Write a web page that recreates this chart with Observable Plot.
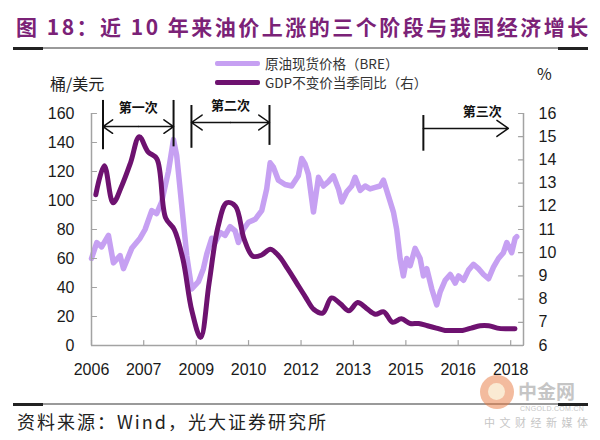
<!DOCTYPE html>
<html>
<head>
<meta charset="utf-8">
<script src="https://cdn.jsdelivr.net/npm/d3@7"></script>
<script src="https://cdn.jsdelivr.net/npm/@observablehq/plot@0.6"></script>
<style>
  html, body { margin: 0; padding: 0; background: #fff; }
  body { width: 600px; height: 440px; position: relative; overflow: hidden; font-family: "Liberation Sans", Arial, sans-serif; }
  .abs { position: absolute; white-space: nowrap; }
  #title { left: 16px; top: 12px; font-family: "Noto Sans CJK SC", sans-serif; font-weight: 700; font-size: 21px; line-height: 28px; color: #7b2277; letter-spacing: 2.5px; }
  .rule { position: absolute; height: 2px; background: #9a9a9a; }
  .rule .end { position: absolute; top: -0.5px; height: 3px; width: 30px; background: #222; }
  #chart { position: absolute; left: 0; top: 50px; }
  .leg { font-family: "Noto Sans CJK SC", sans-serif; font-size: 13.5px; color: #333; line-height: 18px; }
  .sw { position: absolute; width: 45px; height: 5px; border-radius: 2px; }
  .unit { font-size: 16px; color: #222; line-height: 20px; font-family: "Noto Sans CJK SC", "Liberation Sans", sans-serif; }
  #source { left: 17px; top: 408px; font-family: "Noto Sans CJK SC", sans-serif; font-size: 18px; line-height: 26px; color: #222; letter-spacing: 2px; }
  #wm { left: 478px; top: 370px; width: 118px; height: 62px; opacity: 0.5; }
  #wm .t { position: absolute; line-height: normal; color: #8d8d8d; }
</style>
</head>
<body>
<div id="title" class="abs">图 18：近 10 年来油价上涨的三个阶段与我国经济增长</div>
<div class="rule" style="left:13px; top:47px; width:575px;"><div class="end" style="left:0"></div><div class="end" style="right:0"></div></div>

<div id="chart"></div>

<div class="sw" style="left:215px; top:61px; background:#c6a0f2;"></div>
<div class="abs leg" style="left:265px; top:54px;">原油现货价格（BRE）</div>
<div class="sw" style="left:215px; top:80px; background:#6e1270;"></div>
<div class="abs leg" style="left:265px; top:73px;">GDP不变价当季同比（右）</div>
<div class="abs unit" style="left:50px; top:73px;">桶/美元</div>
<div class="abs unit" style="left:537px; top:63px;">%</div>

<div class="rule" style="left:13px; top:403px; width:575px;"><div class="end" style="left:0"></div><div class="end" style="right:0"></div></div>
<div id="source" class="abs">资料来源：Wind，光大证券研究所</div>

<div id="wm" class="abs">
  <div style="position:absolute; left:2px; top:5px; width:34px; height:34px; border-radius:50%; background:#e9793f;"></div>
  <div style="position:absolute; left:10px; top:13px; width:17px; height:17px; border-radius:50%; background:#f7d7a8;"></div>
  <div class="t" style="left:40px; top:7px; font-family:'Noto Sans CJK SC',sans-serif; font-weight:700; font-size:19px;">中金网</div>
  <div class="t" style="left:42px; top:35px; font-family:'Liberation Sans',Arial,sans-serif; font-size:7px; letter-spacing:0.3px;">CNGOLD.COM.CN</div>
  <div class="t" style="left:6px; top:44px; font-family:'Noto Sans CJK SC',sans-serif; font-size:11px; letter-spacing:4.5px;">中文财经新媒体</div>
</div>

<script>
// ---- Data: Brent spot price (USD/barrel) ----
const oilDates = ["2006-01-01","2006-02-25","2006-04-17","2006-06-27","2006-08-18","2006-10-27","2006-12-01",
  "2007-02-26","2007-05-24","2007-07-15","2007-09-23","2007-11-13",
  "2008-01-05","2008-03-15","2008-05-07","2008-06-10","2008-08-01","2008-09-23","2008-11-14",
  "2009-01-23","2009-03-16","2009-04-20","2009-06-11","2009-07-16","2009-09-07","2009-10-29","2009-12-20",
  "2010-02-11","2010-03-17","2010-05-08","2010-06-30","2010-09-08","2010-11-16",
  "2011-01-07","2011-02-12","2011-03-18","2011-05-09","2011-07-18","2011-09-25","2011-12-04",
  "2012-01-08","2012-02-13","2012-03-18","2012-05-10","2012-07-01","2012-08-22","2012-10-13","2012-12-04",
  "2013-01-26","2013-03-02","2013-04-23","2013-06-14","2013-07-19","2013-09-10","2013-11-01","2013-12-23",
  "2014-02-14","2014-04-07","2014-05-12","2014-07-03","2014-08-24","2014-09-27","2014-11-02","2014-12-06",
  "2015-01-10","2015-02-15","2015-04-08","2015-05-30","2015-07-04","2015-08-08","2015-09-29","2015-11-20","2015-12-26",
  "2016-02-16","2016-04-09","2016-05-31","2016-07-05","2016-08-26","2016-10-17","2016-12-08",
  "2017-01-29","2017-03-23","2017-05-14","2017-07-05","2017-08-26","2017-10-17","2017-11-21",
  "2018-01-12","2018-02-17","2018-03-05"];
const oilPrices = [60,71,68,76,57,62,53,
  67,74,80,93,91,
  99,120,142,131,97,62,39,
  44,53,63,74,71,78,76,82,
  79,71,80,85,87,93,
  108,126,123,114,111,110,117,
  129,125,118,92,116,110,113,117,
  108,99,106,110,116,107,110,108,
  109,110,114,103,92,80,60,48,
  60,55,67,60,48,53,39,28,37,
  45,49,43,48,45,52,56,
  53,49,46,54,60,64,71,
  64,74,75];

// ---- Data: China real GDP, quarterly y/y growth (%), right axis ----
const gdpQuarters = [];
for (let y = 2006; y <= 2017; y++) for (let q = 1; q <= 4; q++) gdpQuarters.push(y + "Q" + q);
gdpQuarters.push("2018Q1");
const gdpValues = [12.5,13.75,12.15,12.9, 13.9,15.0,14.35,14.05, 11.5,11.0,9.7,7.5,
  6.35,8.7,11.1,12.15, 12.0,10.6,9.85,9.9, 10.15,9.85,9.3,8.7,
  8.1,7.55,7.4,8.05, 7.8,7.5,7.85,7.6, 7.35,7.45,7.0,7.15,
  6.95,6.95,6.85,6.75, 6.65,6.65,6.65,6.75, 6.85,6.85,6.75,6.72, 6.72];

// ---- Axis ticks ----
const xTickDates = ["2006-01-01","2007-07-01","2009-01-01","2010-07-01","2012-01-01","2013-07-01","2015-01-01","2016-07-01","2018-01-01"];
const leftTicks = [0,20,40,60,80,100,120,140,160];
const rightTicks = [6,7,8,9,10,11,12,13,14,15,16];

// ---- Annotation (three phases of oil price rise) ----
const phaseLabels = ["第一次","第二次","第三次"];
const phaseStarts = ["2006-05-01","2008-11-11","2015-07-03"];
const phaseEnds   = ["2008-05-08","2011-02-05","2017-12-08"];
const notes = {
  arrowY: [151, 153.8, 149.7],
  barTop: [169, 165.5, 158.6],
  barBottom: [135, 136, 134],
  labelY: [164, 165.5, 161.4],
  labelX: [null, null, "2017-03-10"],
  twoSided: [true, true, false]
};

// ---- Build tables ----
const oil = oilDates.map((d, i) => ({date: new Date(d), price: oilPrices[i]}));
const gdp = gdpQuarters.map((s, i) => {
  const y = +s.slice(0, 4), q = +s.slice(5);
  return {date: new Date(Date.UTC(y, (q - 1) * 3 + 1, 15)), value: gdpValues[i]};
});
const xTicks = xTickDates.map(d => new Date(d));
const x0 = new Date("2006-01-01"), x1 = new Date("2018-05-15");
const toLeft = v => (v - 6) * 16;   // right axis 6..16 onto left axis 0..160

const phases = phaseLabels.map((label, i) => {
  const s = new Date(phaseStarts[i]), e = new Date(phaseEnds[i]);
  const m = new Date((+s + +e) / 2);
  return {label, s, e, m, two: notes.twoSided[i], ay: notes.arrowY[i], top: notes.barTop[i], bot: notes.barBottom[i],
          lx: notes.labelX[i] ? new Date(notes.labelX[i]) : m, ly: notes.labelY[i]};
});
const bars = [];
phases.forEach(p => { bars.push({x: p.s, top: p.top, bot: p.bot}); if (p.two) bars.push({x: p.e, top: p.top, bot: p.bot + 2}); });
const arrows = [];
phases.forEach(p => {
  if (p.two) { arrows.push({x1: p.m, x2: p.s, y: p.ay}); arrows.push({x1: p.m, x2: p.e, y: p.ay}); }
  else arrows.push({x1: p.s, x2: p.e, y: p.ay});
});

const axisColor = "#a3a3a3";
const tickShape = {draw(ctx, l) { ctx.moveTo(0, 0); ctx.lineTo(0, -l); }};

const chart = Plot.plot({
  width: 600, height: 350,
  marginLeft: 91, marginRight: 77, marginTop: 63, marginBottom: 55,
  x: {type: "utc", domain: [x0, x1]},
  y: {domain: [0, 160]},
  style: {fontFamily: "'Liberation Sans', Arial, sans-serif", fontSize: "16px", color: "#1a1a1a", background: "transparent", overflow: "visible"},
  marks: [
    Plot.axisX({ticks: xTicks, tickSize: 0, tickPadding: 18, tickFormat: d => String(d.getUTCFullYear()), label: null, fontSize: 16}),
    Plot.axisY({anchor: "left", ticks: leftTicks, tickSize: 0, tickPadding: 17, label: null, fontSize: 16}),
    Plot.axisY({anchor: "right", ticks: rightTicks.map(toLeft), tickFormat: d => String(Math.round(d / 16 + 6)), tickSize: 0, tickPadding: 15, label: null, fontSize: 16}),
    Plot.line(oil, {x: "date", y: "price", stroke: "#c6a0f2", strokeWidth: 5.5, strokeLinejoin: "round"}),
    Plot.line(gdp, {x: "date", y: d => toLeft(d.value), stroke: "#6e1270", strokeWidth: 5, curve: "catmull-rom"}),
    Plot.ruleY([0], {stroke: axisColor, strokeWidth: 1.5}),
    Plot.ruleX([x0, x1], {stroke: axisColor, strokeWidth: 1.5}),
    Plot.vector(xTicks, {x: d => d, y: () => 0, length: 5, rotate: 0, anchor: "start", shape: tickShape, stroke: axisColor, strokeWidth: 1.2}),
    Plot.vector(leftTicks, {x: () => x0, y: d => d, length: 5, rotate: 90, anchor: "start", shape: tickShape, stroke: axisColor, strokeWidth: 1.2}),
    Plot.vector(rightTicks, {x: () => x1, y: d => toLeft(d), length: 5, rotate: -90, anchor: "start", shape: tickShape, stroke: axisColor, strokeWidth: 1.2}),
    Plot.ruleX(bars, {x: "x", y1: "bot", y2: "top", stroke: "#111", strokeWidth: 2}),
    Plot.arrow(arrows, {x1: "x1", x2: "x2", y1: "y", y2: "y", stroke: "#111", strokeWidth: 1.5, headLength: 14, headAngle: 70}),
    Plot.text(phases, {x: "lx", y: "ly", text: "label", fontFamily: "'Noto Sans CJK SC', sans-serif", fontWeight: "bold", fontSize: 13, fill: "#111"})
  ]
});
document.getElementById("chart").appendChild(chart);
</script>
</body>
</html>
